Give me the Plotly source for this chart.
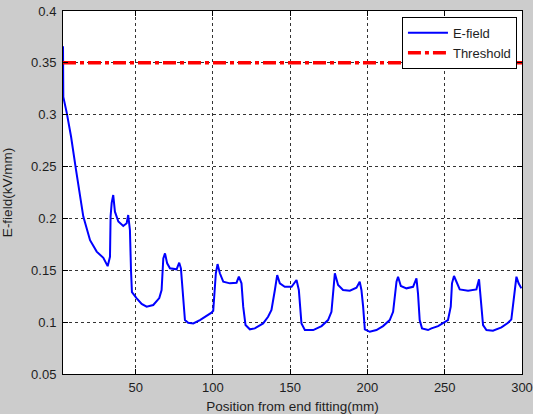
import plotly.graph_objects as go

# E-field curve
pos_mm = [3, 3.2, 5.4, 8.2, 11.4, 16.1, 20.5, 24.8, 29.1, 31.9, 33.4, 33.8, 34.5, 35.5, 36.6, 38.8,
          42.0, 44.2, 45.2, 46.3, 47.0, 47.6, 50.7, 53.9, 57.1, 61.4, 65.3, 66.8, 67.9, 69.0, 70.4,
          72.2, 76.5, 78.2, 79.3, 80.1, 81.9, 84.0, 87.3, 91.6, 95.9, 99.1, 100.2, 101.3, 101.9,
          103.0, 104.5, 106.7, 111.0, 115.3, 116.8, 118.5, 119.6, 121.1, 123.9, 127.1, 132.5,
          135.7, 137.9, 140.1, 141.6, 143.3, 146.5, 150.9, 153.0, 154.1, 155.6, 157.3, 159.5,
          164.9, 170.3, 174.5, 176.7, 177.8, 178.9, 181.0, 184.2, 188.6, 192.9, 195.0, 196.1,
          197.2, 198.3, 201.5, 205.8, 210.1, 214.4, 216.6, 217.7, 218.8, 219.8, 221.6, 225.2,
          229.5, 231.7, 232.7, 233.8, 235.3, 239.2, 241.4, 245.7, 248.9, 252.1, 253.9, 254.7,
          256.0, 257.6, 259.7, 265.1, 270.5, 272.2, 273.3, 274.8, 277.0, 281.2, 286.7, 291.0,
          293.1, 294.2, 295.3, 296.4, 297.8, 299.6]
efield = [0.366, 0.317, 0.302, 0.279, 0.247, 0.202, 0.179, 0.168, 0.162, 0.154, 0.163, 0.202, 0.215,
          0.2226, 0.2065, 0.197, 0.1927, 0.1953, 0.2033, 0.1888, 0.150, 0.129, 0.123, 0.1175, 0.1149,
          0.1165, 0.1232, 0.131, 0.1615, 0.1663, 0.1567, 0.1519, 0.1509, 0.1573, 0.1519, 0.1341,
          0.102, 0.0994, 0.0988, 0.102, 0.1059, 0.1091, 0.111, 0.131, 0.1471, 0.156, 0.1471, 0.139,
          0.1374, 0.138, 0.1438, 0.1374, 0.1149, 0.0972, 0.0931, 0.094, 0.0988, 0.1052, 0.1117,
          0.131, 0.1454, 0.1374, 0.1341, 0.1341, 0.138, 0.1406, 0.131, 0.0988, 0.0924, 0.0924,
          0.0962, 0.102, 0.110, 0.131, 0.1471, 0.1358, 0.131, 0.1303, 0.1332, 0.139, 0.131, 0.1149,
          0.0931, 0.0907, 0.0924, 0.0962, 0.102, 0.110, 0.1278, 0.139, 0.1438, 0.1348, 0.1326,
          0.1341, 0.1422, 0.1278, 0.102, 0.094, 0.0924, 0.094, 0.0962, 0.0994, 0.102, 0.1149,
          0.1374, 0.1445, 0.139, 0.1316, 0.1303, 0.1316, 0.1413, 0.1245, 0.0972, 0.0924, 0.0917,
          0.095, 0.0994, 0.1027, 0.1149, 0.131, 0.1438, 0.1374, 0.1326]

threshold_x = [3, 300]
threshold_y = [0.35, 0.35]

x_ticks = [50, 100, 150, 200, 250, 300]
y_ticks = [0.05, 0.1, 0.15, 0.2, 0.25, 0.3, 0.35, 0.4]
y_ticklabels = ["0.05", "0.1", "0.15", "0.2", "0.25", "0.3", "0.35", "0.4"]

FONT = "Liberation Sans, Arial"
TXT = "#1e1e1e"

fig = go.Figure()
fig.add_trace(go.Scatter(x=pos_mm, y=efield, mode="lines", name="E-field",
                         line=dict(color="#0000ff", width=2)))
fig.add_trace(go.Scatter(x=threshold_x, y=threshold_y, mode="lines", name="Threshold",
                         line=dict(color="#ff0000", width=3.5, dash="13px,4px,4px,4px")))

axis_common = dict(showline=True, linecolor="black", linewidth=1, mirror="ticks",
                   ticks="inside", ticklen=5, tickcolor="black", automargin=False,
                   showgrid=True, gridcolor="#333333", griddash="3px,3px", gridwidth=1,
                   zeroline=False, tickfont=dict(family=FONT, size=13, color=TXT))

fig.update_xaxes(range=[3, 300], tickvals=x_ticks, ticklabelstandoff=1,
                 title=dict(text="Position from end fitting(mm)",
                            font=dict(family=FONT, size=13.5, color=TXT)),
                 **axis_common)
fig.update_yaxes(range=[0.05, 0.4], tickvals=y_ticks, ticktext=y_ticklabels, ticklabelstandoff=3,
                 title=dict(text="E-field(kV/mm)", font=dict(family=FONT, size=13.5, color=TXT)),
                 **axis_common)

fig.update_layout(
    width=533, height=414,
    margin=dict(l=63, r=11, t=11, b=40, autoexpand=False),
    paper_bgcolor="#cccccc", plot_bgcolor="white",
    font=dict(family=FONT, size=13, color=TXT),
    legend=dict(x=0.989, y=0.984, xanchor="right", yanchor="top",
                bgcolor="white", bordercolor="black", borderwidth=1,
                font=dict(family=FONT, size=13, color=TXT),
                tracegroupgap=0, itemwidth=40),
    showlegend=True,
)

fig.write_html("out.html", config={"displayModeBar": False},
               post_script="document.body.style.margin='0';document.body.style.overflow='hidden';")
